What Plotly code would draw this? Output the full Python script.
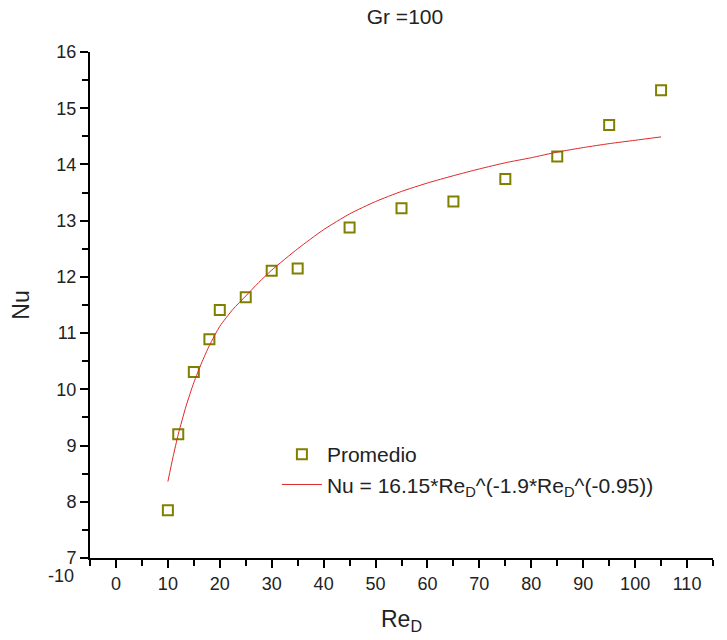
import plotly.graph_objects as go

# measured points (Promedio)
re_pts = [10, 12, 15, 18, 20, 25, 30, 35, 45, 55, 65, 75, 85, 95, 105]
nu_pts = [7.85, 9.20, 10.31, 10.89, 11.41, 11.64, 12.11, 12.15, 12.88, 13.22, 13.34, 13.74, 14.14, 14.70, 15.32]

# fitted curve
re_fit = [10, 11, 12, 13.5, 15, 16.5, 18, 20, 22.5, 25, 27.5, 30, 35, 40, 45, 50, 55, 60, 65, 70,
          75, 80, 85, 90, 95, 100, 105]
nu_fit = [8.36, 8.80, 9.20, 9.70, 10.12, 10.47, 10.78, 11.12, 11.42, 11.66, 11.90, 12.12, 12.50, 12.84,
          13.12, 13.34, 13.52, 13.67, 13.80, 13.92, 14.03, 14.12, 14.22, 14.30, 14.37, 14.43, 14.49]

x_ticks = list(range(0, 120, 10))
y_ticks = list(range(7, 17))

font_family = "Arial, Liberation Sans, sans-serif"
olive = "rgb(128,128,0)"
red = "rgb(222,40,40)"

fig = go.Figure()
fig.add_trace(go.Scatter(
    x=re_pts, y=nu_pts,
    mode='markers',
    name='Promedio',
    marker=dict(symbol='square-open', size=10, color=olive, line=dict(width=2, color=olive))
))
fig.add_trace(go.Scatter(
    x=re_fit, y=nu_fit,
    mode='lines',
    name='Nu = 16.15*Re<sub>D</sub>^(-1.9*Re<sub>D</sub>^(-0.95))',
    line=dict(color=red, width=1, shape='spline', smoothing=0.6)
))

axis_common = dict(
    showline=True, linecolor='black', linewidth=2,
    showgrid=False, zeroline=False, automargin=False,
    tickcolor='black', tickwidth=2,
)

fig.update_layout(
    width=727, height=640,
    margin=dict(l=82, r=22, t=44, b=90),
    paper_bgcolor='white', plot_bgcolor='white',
    font=dict(family=font_family, color='black'),
    title=dict(text='Gr =100', x=0.546, xanchor='center', y=0.998, yanchor='top',
               font=dict(size=21, family=font_family, color='#222')),
    xaxis=dict(
        range=[-5, 115], tickvals=x_ticks, ticks='outside', ticklen=8,
        minor=dict(dtick=5, tick0=5, ticks='outside', ticklen=6, tickcolor='black', tickwidth=2),
        tickfont=dict(size=18, color='#222'),
        title=dict(text='Re<sub>D</sub>', font=dict(size=23, color='#222'), standoff=18),
        **axis_common
    ),
    yaxis=dict(
        range=[7, 16], tickvals=y_ticks, ticks='outside', ticklen=8,
        minor=dict(dtick=0.5, tick0=7.5, ticks='outside', ticklen=6, tickcolor='black', tickwidth=2),
        tickfont=dict(size=18, color='#222'),
        title=dict(text='Nu', font=dict(size=23, color='#222'), standoff=24),
        **axis_common
    ),
    xaxis2=dict(
        overlaying='x', side='top', range=[-5, 115], tickvals=x_ticks,
        ticks='inside', ticklen=8, showticklabels=False,
        minor=dict(dtick=5, tick0=5, ticks='inside', ticklen=6, tickcolor='black', tickwidth=2),
        **axis_common
    ),
    yaxis2=dict(
        overlaying='y', side='right', range=[7, 16], tickvals=y_ticks,
        ticks='inside', ticklen=8, showticklabels=False,
        minor=dict(dtick=0.5, tick0=7.5, ticks='inside', ticklen=6, tickcolor='black', tickwidth=2),
        **axis_common
    ),
    legend=dict(
        x=0.3, y=0.245, xanchor='left', yanchor='top',
        bgcolor='rgba(0,0,0,0)',
        font=dict(size=21, color='#222'),
        tracegroupgap=0, itemwidth=40,
    ),
    showlegend=True,
)

# "-10" label that sits left of the axis corner
fig.add_annotation(
    x=-5.5 / 120, y=0, xref='paper', yref='paper',
    text='-10', showarrow=False, xanchor='center', yanchor='top', yshift=-6,
    font=dict(size=18, color='#222', family=font_family)
)

fig.write_html("out.html")
